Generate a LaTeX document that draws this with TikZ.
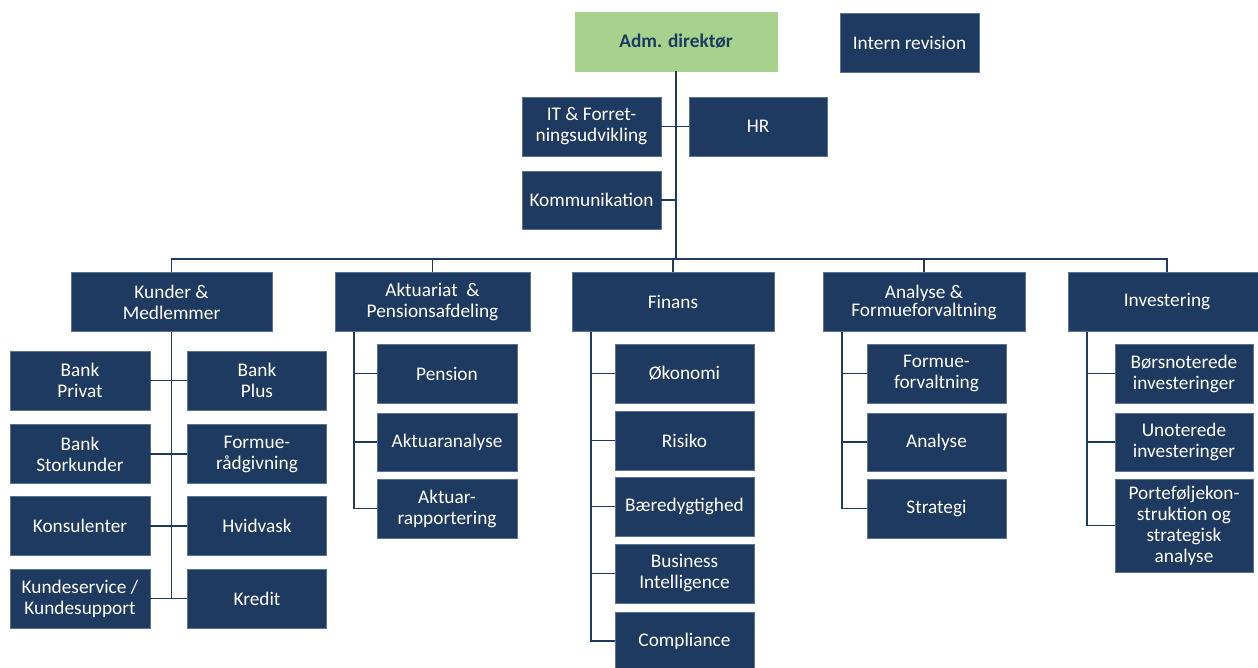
\documentclass[tikz,border=0pt]{standalone}
\usepackage{fontspec}
\setmainfont{Carlito}

\definecolor{navy}{HTML}{1F3A60}
\definecolor{edge}{HTML}{5C7494}
\definecolor{leaf}{HTML}{A9D18E}

\tikzset{
	box/.style={draw=edge,line width=0.6pt,fill=navy,text=white,align=center,inner sep=0pt,
		minimum height=59pt,font=\fontsize{19.3}{21}\selectfont},
	topbox/.style={box,fill=leaf,draw=leaf,text=navy,font=\fontsize{19.3}{21}\selectfont\bfseries},
	conn/.style={draw=navy,line width=1.8pt},
}

\begin{document}
\begin{tikzpicture}[x=1pt,y=-1pt]
	\useasboundingbox (0,0) rectangle (1258,668);

	%TOP
	\node[topbox,minimum width=202pt] (adm) at (676,41.5) {Adm. direktør};
	\node[box,minimum width=139pt] (intern) at (909.5,42.5) {Intern revision};
	\node[box,minimum width=139pt] (it) at (591.5,126.5) {IT \& Forret-\\ningsudvikling};
	\node[box,minimum width=138pt] (hr) at (758,126.5) {HR};
	\node[box,minimum width=139pt,minimum height=58pt] (komm) at (591.5,200) {Kommunikation};

	%LEVEL ONE
	\node[box,minimum width=201pt] (kunder) at (171.5,302) {Kunder \&\\Medlemmer};
	\node[box,minimum width=195pt] (aktuar) at (432.5,302) {Aktuariat~ \&\\Pensionsafdeling};
	\node[box,minimum width=202pt] (finans) at (673,302) {Finans};
	\node[box,minimum width=202pt] (analyse) at (924,302) {Analyse \&\\[-3pt]Formueforvaltning};
	\node[box,minimum width=198pt] (invest) at (1167,302) {Investering};

	%KUNDER
	\node[box,minimum width=140pt] (bprivat) at (80,380.5) {Bank\\Privat};
	\node[box,minimum width=139pt] (bplus) at (257,380.5) {Bank\\Plus};
	\node[box,minimum width=140pt] (bstor) at (80,454) {Bank\\Storkunder};
	\node[box,minimum width=139pt] (formraad) at (257,454) {Formue-\\rådgivning};
	\node[box,minimum width=140pt] (konsul) at (80,526) {Konsulenter};
	\node[box,minimum width=139pt] (hvidvask) at (257,526) {Hvidvask};
	\node[box,minimum width=140pt] (kservice) at (80,598.5) {Kundeservice /\\Kundesupport};
	\node[box,minimum width=139pt] (kredit) at (257,598.5) {Kredit};

	%AKTUARIAT
	\node[box,minimum width=140pt] (pension) at (447,373.5) {Pension};
	\node[box,minimum width=140pt,minimum height=58pt] (aktana) at (447,442) {Aktuaranalyse};
	\node[box,minimum width=140pt] (aktrap) at (447,508.5) {Aktuar-\\rapportering};

	%FINANS
	\node[box,minimum width=139pt] (oekonomi) at (684.5,373.5) {Økonomi};
	\node[box,minimum width=139pt] (risiko) at (684.5,440.5) {Risiko};
	\node[box,minimum width=139pt] (baered) at (684.5,506.5) {Bæredygtighed};
	\node[box,minimum width=139pt] (bi) at (684.5,573.5) {Business\\Intelligence};
	\node[box,minimum width=139pt,minimum height=58pt] (compl) at (684.5,641) {Compliance};

	%ANALYSE
	\node[box,minimum width=139pt] (formforv) at (936.5,373.5) {Formue-\\forvaltning};
	\node[box,minimum width=139pt,minimum height=58pt] (analys) at (936.5,442) {Analyse};
	\node[box,minimum width=139pt] (strategi) at (936.5,508.5) {Strategi};

	%INVESTERING
	\node[box,minimum width=138pt] (boers) at (1184,373.5) {Børsnoterede\\investeringer};
	\node[box,minimum width=138pt,minimum height=58pt] (unot) at (1184,442) {Unoterede\\investeringer};
	\node[box,minimum width=138pt,minimum height=93pt] (portef) at (1184,525.5) {Porteføljekon-\\struktion og\\strategisk\\analyse};

	%CONNECTORS
	\coordinate (bus) at (676,259);
	\draw[conn] (adm.south) -- (bus);
	\draw[conn] (it) -- (hr);
	\draw[conn] (komm.east) -- (komm.east -| bus);
	\draw[conn] (kunder.north) |- (bus) -| (invest.north);
	\foreach \n in {aktuar,finans,analyse}
	\draw[conn] (\n.north) -- (\n.north |- bus);
	%
	\draw[conn] (kunder.south) -- (kunder.south |- kredit.west);	%spine
	\foreach \a/\b in {bprivat/bplus,bstor/formraad,konsul/hvidvask,kservice/kredit}
	\draw[conn] (\a) -- (\b);
	%
	\foreach \p/\list in {aktuar/{pension,aktana,aktrap},finans/{oekonomi,risiko,baered,bi,compl},
		analyse/{formforv,analys,strategi},invest/{boers,unot,portef}}{
	\coordinate (\p-s) at ([xshift=19.5pt]\p.south west);
	\foreach \c in \list
	\draw[conn] (\p-s) |- (\c.west);
	}
\end{tikzpicture}
\end{document}
